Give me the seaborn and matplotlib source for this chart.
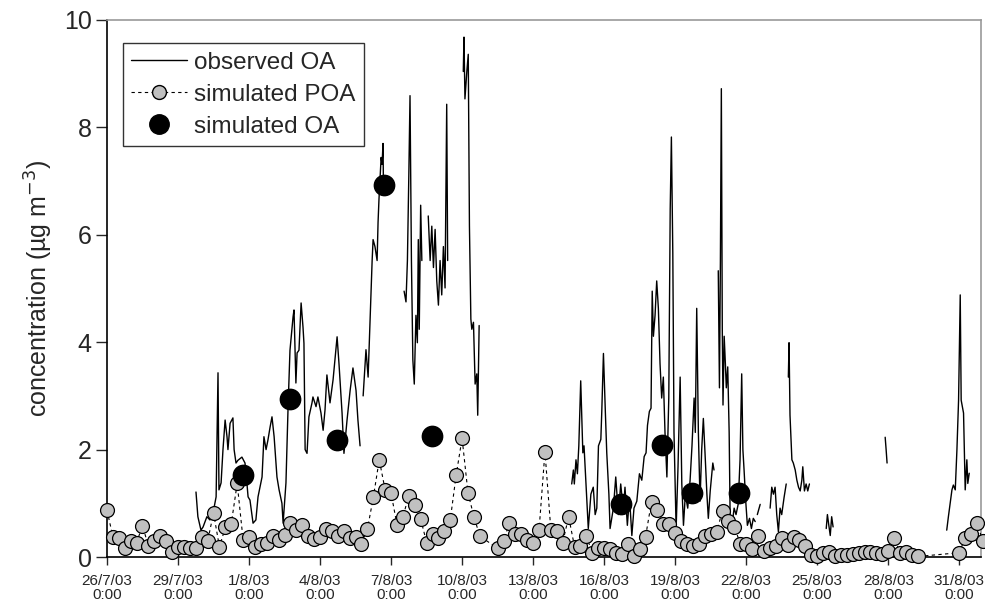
import numpy as np
import pandas as pd
import matplotlib
matplotlib.use("Agg")
import matplotlib.pyplot as plt
from matplotlib.lines import Line2D
import seaborn as sns

nan = np.nan

# ---- data (x in days since 26/7/03 0:00) ----
tick_days = [0, 3, 6, 9, 12, 15, 18, 21, 24, 27, 30, 33, 36]
tick_labels = ["26/7/03\n0:00", "29/7/03\n0:00", "1/8/03\n0:00", "4/8/03\n0:00",
               "7/8/03\n0:00", "10/8/03\n0:00", "13/8/03\n0:00", "16/8/03\n0:00",
               "19/8/03\n0:00", "22/8/03\n0:00", "25/8/03\n0:00", "28/8/03\n0:00",
               "31/8/03\n0:00"]

obs_day = [3.76, 3.84, 3.97, 4.06, 4.22, 4.35, 4.48, 4.61, 4.69, 4.73, 4.82, 4.90, 4.99, 5.07,
           5.11, 5.20, 5.32, 5.37, 5.45, 5.53, 5.70, 5.83, 5.91, 5.96, 6.04, 6.17, 6.29, 6.38,
           6.55, 6.63, 6.72, 6.80, 6.89, 6.97, 7.06, 7.18, 7.27, 7.39, 7.44, 7.56, 7.65, 7.73,
           7.86, 7.90, 7.98, 8.03, 8.11, 8.20, 8.28, 8.32, 8.37, 8.45, 8.53, 8.66, 8.70, 8.83,
           8.91, 9.04, 9.13, 9.21, 9.29, 9.42, 9.55, 9.72, 9.80, 9.93, 10.01, 10.14, 10.27,
           10.39, 10.52, 10.60, 10.69, nan,
           10.82, 10.94, 11.03, 11.11, 11.20, 11.24, 11.32, 11.41, 11.45, 11.49, 11.58, 11.62,
           11.66, 11.68, nan,
           12.55, 12.63, 12.69, 12.75, 12.80, 12.86, 12.92, 12.98, 13.05, 13.11, 13.15, 13.19,
           13.25, 13.30, nan,
           13.57, 13.65, 13.72, 13.79, 13.86, 13.93, 14.00, 14.07, 14.14, 14.21, 14.28, 14.35,
           14.39, nan,
           15.05, 15.08, 15.12, 15.20, 15.26, 15.31, 15.37, 15.41, 15.48, 15.55, 15.62, 15.66,
           15.72, nan,
           19.63, 19.70, 19.74, 19.81, 19.87, 19.93, 20.01, 20.10, 20.15, 20.24, 20.33, 20.44,
           20.54, 20.62, 20.69, 20.76, 20.86, 20.90, 20.97, 21.05, 21.11, 21.20, 21.25, 21.39,
           21.49, 21.60, 21.70, 21.81, 21.88, 21.98, 22.07, 22.17, 22.26, 22.38, 22.49, 22.59,
           22.69, 22.77, 22.83, 22.91, 22.98, 23.03, 23.08, 23.15, 23.22, 23.29, 23.36, 23.43,
           23.50, 23.57, 23.65, 23.73, 23.79, 23.84, 23.90, 23.95, 24.04, 24.12, 24.21, 24.28,
           24.35, 24.43, 24.53, 24.63, 24.71, 24.80, 24.85, 24.91, 24.98, 25.05, 25.12, 25.19,
           25.26, 25.34, 25.40, 25.48, 25.59, 25.64, nan,
           25.82, 25.87, 25.91, 25.95, 25.99, 26.02, 26.07, 26.12, 26.16, 26.22, 26.28, 26.32,
           26.40, 26.49, 26.57, 26.66, 26.74, 26.81, 26.86, 26.91, 26.98, 27.05, 27.14, 27.22,
           27.30, 27.38, nan,
           27.47, 27.59, nan,
           28.01, 28.08, 28.15, 28.22, 28.29, 28.36, 28.43, 28.50, 28.60, 28.69, nan,
           28.78, 28.81, 28.85, 28.93, 28.99, 29.07, 29.14, 29.21, 29.28, 29.35, 29.39, 29.46,
           29.53, 29.60, 29.67, nan,
           30.38, 30.43, 30.49, 30.55, 30.61, 30.67, nan,
           32.87, 32.91, 32.95, nan,
           35.47, 35.54, 35.69, 35.75, 35.83, 35.90, 35.97, 36.04, 36.08, 36.18, 36.25, 36.32,
           36.36, 36.42]

obs_val = [1.21, 0.75, 0.50, 0.56, 0.75, 0.69, 0.82, 1.12, 3.43, 1.25, 1.38, 2.00, 2.55, 2.24,
           2.00, 2.49, 2.59, 2.00, 1.75, 1.80, 1.86, 1.75, 1.38, 1.12, 1.06, 0.63, 0.69, 1.12,
           1.49, 2.24, 2.00, 2.18, 2.42, 2.61, 2.24, 1.49, 1.25, 1.00, 0.63, 1.38, 2.80, 3.85,
           4.47, 4.60, 3.24, 3.80, 3.85, 4.73, 4.28, 3.98, 2.00, 1.93, 2.61, 2.87, 2.98, 2.80,
           2.98, 2.68, 2.36, 2.74, 3.39, 2.87, 3.30, 4.10, 3.60, 2.68, 1.93, 2.55, 3.10,
           3.52, 3.10, 2.55, 2.07, nan,
           3.00, 3.86, 3.35, 4.37, 5.52, 5.91, 5.78, 5.52, 6.23, 6.67, 7.44, 7.31,
           7.70, 6.80, nan,
           4.95, 4.75, 5.52, 7.12, 8.59, 5.52, 3.67, 3.22, 4.50, 3.99, 5.91, 4.24,
           6.55, 5.52, nan,
           6.35, 5.52, 6.16, 5.39, 6.10, 5.14, 4.69, 5.52, 4.88, 5.78, 5.01, 8.43,
           5.52, nan,
           9.04, 9.68, 8.53, 9.04, 9.36, 6.16, 4.43, 4.24, 4.37, 3.22, 3.41, 2.64,
           4.31, nan,
           1.36, 1.62, 1.36, 1.81, 1.55, 2.07, 3.28, 1.94, 2.07, 1.30, 0.53, 1.17,
           1.30, 0.79, 0.91, 2.07, 2.19, 2.71, 3.79, 2.71, 1.94, 1.17, 0.53, 0.91,
           1.49, 0.79, 1.36, 0.85, 1.30, 0.59, 1.11, 0.40, 0.91, 1.04, 1.55, 1.43,
           1.87, 1.94, 2.45, 2.71, 2.77, 4.95, 4.11, 4.50, 5.14, 4.63, 3.60, 2.96,
           3.35, 2.32, 1.49, 2.96, 6.48, 7.82, 5.65, 2.32, 0.53, 1.68, 3.35, 1.36,
           0.59, 1.17, 0.91, 1.43, 2.07, 2.96, 2.32, 4.63, 2.32, 1.04, 2.00, 2.58,
           1.94, 1.17, 0.72, 1.23, 1.75, 1.62, nan,
           5.33, 3.15, 5.52, 8.72, 4.24, 2.83, 4.11, 3.60, 3.15, 3.54, 2.32, 0.79,
           0.59, 0.91, 0.79, 0.98, 1.81, 3.41, 2.00, 1.62, 1.04, 0.59, 0.72, 0.53,
           0.72, 0.66, nan,
           0.79, 0.98, nan,
           0.91, 1.30, 1.17, 1.30, 0.79, 0.47, 0.91, 0.79, 1.11, 1.36, nan,
           3.35, 3.99, 2.64, 1.81, 1.75, 1.62, 1.43, 1.30, 1.23, 1.43, 1.68, 1.23,
           1.36, 1.23, 1.36, nan,
           0.53, 0.79, 0.59, 0.40, 0.75, 0.56, nan,
           2.23, 2.00, 1.75, nan,
           0.50, 0.75, 1.25, 1.34, 1.25, 1.99, 2.92, 4.88, 2.92, 2.68, 1.25, 1.81,
           1.37, 1.56]

# simulated POA, 6-hourly (index * 6 h since 26/7/03 0:00)
poa_idx = list(range(0, 64)) + list(range(66, 138)) + list(range(144, 149))
poa_val = [0.87, 0.38, 0.36, 0.16, 0.29, 0.27, 0.58, 0.21, 0.30, 0.39, 0.29, 0.10, 0.18, 0.18,
           0.17, 0.17, 0.37, 0.29, 0.82, 0.19, 0.55, 0.62, 1.37, 0.32, 0.38, 0.19, 0.24, 0.27,
           0.40, 0.31, 0.41, 0.63, 0.50, 0.59, 0.40, 0.34, 0.38, 0.52, 0.49, 0.40, 0.49, 0.35,
           0.38, 0.25, 0.52, 1.11, 1.81, 1.25, 1.19, 0.60, 0.75, 1.14, 0.97, 0.71, 0.27, 0.43,
           0.36, 0.49, 0.69, 1.53, 2.21, 1.19, 0.75, 0.39,
           0.16, 0.30, 0.64, 0.43, 0.42, 0.32, 0.27, 0.50, 1.96, 0.50, 0.49, 0.27, 0.75, 0.19,
           0.20, 0.39, 0.07, 0.16, 0.16, 0.14, 0.07, 0.06, 0.24, 0.01, 0.14, 0.38, 1.03, 0.88,
           0.61, 0.62, 0.45, 0.29, 0.25, 0.20, 0.25, 0.39, 0.43, 0.47, 0.86, 0.67, 0.56, 0.25,
           0.25, 0.15, 0.39, 0.11, 0.16, 0.20, 0.36, 0.22, 0.38, 0.32, 0.20, 0.04, 0.02, 0.08,
           0.10, 0.02, 0.04, 0.04, 0.06, 0.08, 0.10, 0.10, 0.08, 0.06, 0.11, 0.36, 0.08, 0.10,
           0.04, 0.01,
           0.08, 0.36, 0.43, 0.63, 0.29]

# simulated OA
soa_day = [5.76, 7.73, 9.73, 11.70, 13.72, 21.70, 23.43, 24.70, 26.70]
soa_val = [1.53, 2.95, 2.17, 6.93, 2.25, 0.98, 2.09, 1.20, 1.19]

# ---- frames ----
obs = pd.DataFrame({"day": obs_day, "val": obs_val})
obs["seg"] = obs["val"].isna().cumsum()
obs = obs.dropna()
poa = pd.DataFrame({"day": np.array(poa_idx) * 0.25, "val": poa_val})
soa = pd.DataFrame({"day": soa_day, "val": soa_val})

sns.set_style("white")
plt.rcParams["font.family"] = ["Liberation Sans", "DejaVu Sans"]

fig = plt.figure(figsize=(9.85, 6.04), dpi=100)
ax = fig.add_axes([0.1086, 0.0778, 0.8874, 0.8892])

sns.lineplot(data=obs, x="day", y="val", units="seg", estimator=None, color="black",
             lw=1.0, ax=ax, sort=False)
sns.lineplot(data=poa, x="day", y="val", estimator=None, color="black", lw=0.8,
             ls=(0, (3, 3)), marker="o", markersize=10, markerfacecolor="#c0c0c0",
             markeredgecolor="black", markeredgewidth=0.9, ax=ax, sort=False, clip_on=False,
             zorder=3)
sns.scatterplot(data=soa, x="day", y="val", color="black", s=210, edgecolor="black",
                ax=ax, zorder=4)

ax.set_xlim(0, 36.92)
ax.set_ylim(0, 10)
ax.set_yticks([0, 2, 4, 6, 8, 10])
ax.set_yticklabels(["0", "2", "4", "6", "8", "10"])
ax.set_xticks(tick_days)
ax.set_xticklabels(tick_labels, fontsize=11, linespacing=1.05)
ax.tick_params(axis="y", labelsize=18, length=8, width=1, direction="out", pad=3, left=True)
ax.tick_params(axis="x", length=6, width=1, direction="out", pad=6, bottom=True)
ax.set_xlabel("")
ax.set_ylabel("concentration (\u00b5g m$^{-3}$)", fontsize=18, labelpad=6)

for s in ["left", "bottom"]:
    ax.spines[s].set_color("black")
    ax.spines[s].set_linewidth(1.2)
for s in ["top", "right"]:
    ax.spines[s].set_color("#999999")
    ax.spines[s].set_linewidth(1.2)

handles = [
    Line2D([], [], color="black", lw=1.0),
    Line2D([], [], color="black", lw=0.8, ls=(0, (3, 3)), marker="o", markersize=10,
           markerfacecolor="#c0c0c0", markeredgecolor="black"),
    Line2D([], [], color="black", lw=0, marker="o", markersize=14),
]
leg = ax.legend(handles, ["observed OA", "simulated POA", "simulated OA"],
                loc="upper left", bbox_to_anchor=(0.018, 0.957), borderaxespad=0,
                fontsize=17.5, frameon=True, fancybox=False, handlelength=2.3,
                handletextpad=0.3, labelspacing=0.42, borderpad=0.35)
leg.get_frame().set_edgecolor("black")
leg.get_frame().set_linewidth(1.0)

fig.savefig("out.png", dpi=100)
